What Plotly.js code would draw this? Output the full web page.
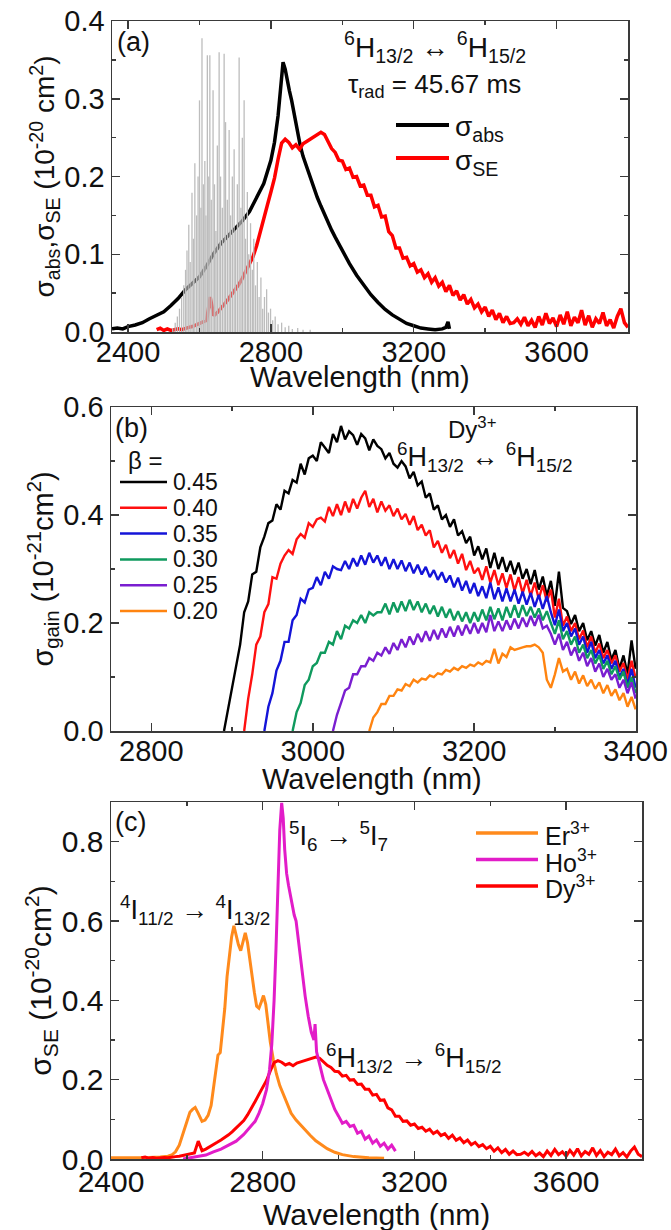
<!DOCTYPE html>
<html>
<head>
<meta charset="utf-8">
<script src="https://cdn.plot.ly/plotly-3.0.1.min.js"></script>
<style>html,body{margin:0;padding:0;background:#fff;}#chart{width:671px;height:1230px;}</style>
</head>
<body>
<div id="chart"></div>
<script>
// ---------- Panel (a): Dy3+ 6H13/2 <-> 6H15/2 ----------
const wlAbs = [2355,2370,2385,2400,2420,2440,2460,2480,2500,2520,2540,2560,2580,2600,2620,2640,2660,2680,2700,2720,2740,2760,2780,2800,2810,2820,2828,2834,2840,2846,2852,2858,2866,2874,2882,2890,2900,2910,2920,2930,2940,2950,2960,2970,2980,2990,3000,3020,3040,3060,3080,3100,3120,3140,3160,3180,3200,3220,3240,3260,3280,3290,3296,3300];
const sigAbs = [0.004,0.005,0.004,0.007,0.009,0.012,0.017,0.021,0.026,0.034,0.043,0.054,0.062,0.071,0.085,0.101,0.114,0.124,0.133,0.143,0.155,0.172,0.191,0.221,0.244,0.278,0.318,0.347,0.338,0.322,0.310,0.298,0.278,0.258,0.240,0.226,0.212,0.198,0.185,0.173,0.162,0.151,0.141,0.131,0.122,0.113,0.104,0.088,0.073,0.060,0.048,0.038,0.029,0.022,0.016,0.011,0.008,0.005,0.004,0.003,0.004,0.006,0.013,0.004];

const wlSE = [2480,2490,2500,2510,2520,2530,2540,2550,2560,2570,
  2580,2590,2600,2610,2620,2630,2640,2650,2660,2670,
  2680,2690,2700,2710,2720,2730,2740,2750,2760,2770,
  2780,2790,2800,2810,2820,2830,2840,2850,2860,2870,
  2880,2890,2900,2910,2920,2930,2940,2950,2960,2970,
  2980,2990,3000,3010,3020,3030,3040,3050,3060,3070,
  3080,3090,3100,3110,3120,3130,3140,3150,3160,3170,
  3180,3190,3200,3210,3220,3230,3240,3250,3260,3270,
  3280,3290,3300,3310,3320,3330,3340,3350,3360,3370,
  3380,3390,3400,3410,3420,3430,3440,3450,3460,3470,
  3480,3490,3500,3510,3520,3530,3540,3550,3560,3570,
  3580,3590,3600,3610,3620,3630,3640,3650,3660,3670,
  3680,3690,3700,3710,3720,3730,3740,3750,3760,3770,
  3780,3790,3800];
const sigSE = [0.003,0.005,0.002,0.004,0.002,0.003,0.004,0.003,0.005,0.006,
  0.007,0.009,0.010,0.012,0.015,0.045,0.021,0.025,0.030,0.036,
  0.042,0.048,0.054,0.061,0.069,0.078,0.087,0.097,0.111,0.127,
  0.145,0.163,0.180,0.198,0.222,0.243,0.248,0.244,0.237,0.241,
  0.235,0.242,0.245,0.248,0.252,0.254,0.257,0.254,0.245,0.236,
  0.231,0.221,0.220,0.209,0.211,0.199,0.200,0.188,0.189,0.176,
  0.176,0.161,0.163,0.148,0.149,0.129,0.124,0.108,0.108,0.095,
  0.096,0.085,0.088,0.077,0.080,0.070,0.075,0.064,0.070,0.059,
  0.064,0.052,0.060,0.047,0.053,0.041,0.048,0.036,0.042,0.031,
  0.036,0.026,0.032,0.020,0.028,0.016,0.024,0.012,0.020,0.011,
  0.012,0.017,0.010,0.019,0.008,0.015,0.006,0.020,0.009,0.024,
  0.011,0.018,0.007,0.022,0.010,0.026,0.008,0.019,0.012,0.028,
  0.009,0.021,0.006,0.017,0.011,0.025,0.008,0.016,0.005,0.020,
  0.030,0.012,0.006];

// grey emission lines of the reference spectrum
const wlLines = [2525,2532,2538,2544,2550,2556,2561,2565,2570,2574,
  2579,2583,2587,2592,2596,2600,2604,2607,2611,2615,
  2618,2622,2626,2629,2633,2638,2642,2646,2650,2655,
  2659,2664,2669,2673,2678,2683,2687,2692,2697,2701,
  2706,2711,2716,2720,2725,2729,2734,2738,2743,2748,
  2752,2757,2762,2767,2772,2777,2782,2788,2793,2799,
  2805,2812,2820,2830,2840,2850,2860,2875,2890,2910];
const lineHeights = [0.005,0.012,0.020,0.030,0.045,0.060,0.080,0.105,0.138,0.090,
  0.179,0.120,0.217,0.150,0.200,0.298,0.160,0.378,0.190,0.220,
  0.150,0.356,0.200,0.356,0.170,0.311,0.190,0.130,0.240,0.360,
  0.200,0.160,0.358,0.270,0.170,0.260,0.150,0.200,0.235,0.130,
  0.190,0.353,0.160,0.250,0.298,0.120,0.180,0.100,0.140,0.080,
  0.120,0.060,0.090,0.045,0.070,0.030,0.045,0.055,0.025,0.030,
  0.015,0.020,0.010,0.012,0.006,0.008,0.004,0.005,0.003,0.003];

// ---------- Panel (b): gain cross-sections ----------
const betaLabels = ['0.45','0.40','0.35','0.30','0.25','0.20'];
const betaColors = ['#000000','#ff1010','#1414d8','#0f9a5e','#7a1ed0','#ff8410'];
const wlGain = [2890,2895,2900,2905,2910,2915,2920,2925,2930,2935,
  2940,2945,2950,2955,2960,2965,2970,2975,2980,2985,
  2990,2995,3000,3005,3010,3015,3020,3025,3030,3035,
  3040,3045,3050,3055,3060,3065,3070,3075,3080,3085,
  3090,3095,3100,3105,3110,3115,3120,3125,3130,3135,
  3140,3145,3150,3155,3160,3165,3170,3175,3180,3185,
  3190,3195,3200,3205,3210,3215,3220,3225,3230,3235,
  3240,3245,3250,3255,3260,3265,3270,3275,3280,3285,
  3290,3295,3300,3305,3310,3315,3320,3325,3330,3335,
  3340,3345,3350,3355,3360,3365,3370,3375,3380,3385,
  3390,3395,3400];
const gain045 = [0.000,0.040,0.085,0.125,0.160,0.220,0.240,0.290,0.295,0.340,
  0.360,0.385,0.390,0.420,0.410,0.445,0.440,0.465,0.460,0.495,
  0.475,0.505,0.510,0.500,0.535,0.525,0.515,0.550,0.535,0.565,
  0.540,0.555,0.548,0.530,0.550,0.542,0.520,0.540,0.528,0.522,
  0.505,0.515,0.495,0.488,0.500,0.490,0.468,0.480,0.455,0.462,
  0.432,0.440,0.410,0.418,0.392,0.400,0.378,0.392,0.362,0.370,
  0.348,0.360,0.325,0.342,0.318,0.338,0.302,0.330,0.300,0.322,
  0.295,0.315,0.290,0.312,0.282,0.300,0.272,0.298,0.262,0.286,
  0.250,0.278,0.232,0.295,0.228,0.222,0.198,0.215,0.185,0.200,
  0.168,0.185,0.158,0.178,0.145,0.165,0.132,0.150,0.115,0.140,
  0.105,0.168,0.115];
const gain040 = [null,null,null,null,null,0.000,0.060,0.105,0.160,0.175,
  0.220,0.235,0.285,0.282,0.310,0.325,0.335,0.328,0.355,0.365,
  0.358,0.385,0.378,0.392,0.395,0.388,0.415,0.398,0.420,0.400,
  0.425,0.405,0.430,0.412,0.432,0.445,0.415,0.430,0.405,0.425,
  0.408,0.418,0.398,0.412,0.392,0.402,0.382,0.398,0.372,0.382,
  0.362,0.372,0.340,0.352,0.330,0.345,0.320,0.335,0.310,0.328,
  0.298,0.315,0.292,0.302,0.280,0.305,0.275,0.298,0.270,0.292,
  0.265,0.290,0.260,0.285,0.255,0.280,0.250,0.275,0.245,0.270,
  0.240,0.262,0.210,0.245,0.195,0.212,0.185,0.200,0.170,0.186,
  0.155,0.175,0.145,0.162,0.135,0.150,0.125,0.140,0.110,0.126,
  0.095,0.130,0.098];
const gain035 = [null,null,null,null,null,null,null,null,null,null,
  0.000,0.045,0.070,0.112,0.130,0.165,0.165,0.205,0.215,0.245,
  0.238,0.262,0.265,0.285,0.270,0.295,0.282,0.305,0.300,0.298,
  0.315,0.300,0.320,0.305,0.325,0.308,0.330,0.312,0.325,0.306,
  0.322,0.300,0.318,0.300,0.316,0.296,0.312,0.292,0.308,0.290,
  0.304,0.285,0.298,0.280,0.294,0.275,0.288,0.266,0.284,0.260,
  0.278,0.255,0.274,0.250,0.268,0.246,0.275,0.244,0.266,0.240,
  0.264,0.240,0.262,0.236,0.258,0.234,0.256,0.230,0.252,0.226,
  0.250,0.220,0.196,0.225,0.185,0.200,0.175,0.190,0.160,0.175,
  0.145,0.165,0.135,0.150,0.125,0.140,0.115,0.130,0.100,0.115,
  0.085,0.115,0.080];
const gain030 = [null,null,null,null,null,null,null,null,null,null,
  null,null,null,null,null,null,null,0.000,0.035,0.052,
  0.085,0.095,0.120,0.126,0.145,0.145,0.165,0.160,0.185,0.170,
  0.195,0.190,0.205,0.200,0.215,0.200,0.220,0.214,0.220,0.220,
  0.236,0.216,0.238,0.220,0.240,0.222,0.243,0.224,0.240,0.220,
  0.236,0.217,0.232,0.212,0.230,0.210,0.226,0.205,0.222,0.203,
  0.220,0.200,0.220,0.203,0.225,0.205,0.230,0.207,0.227,0.205,
  0.230,0.210,0.233,0.210,0.233,0.213,0.230,0.210,0.227,0.205,
  0.222,0.200,0.180,0.205,0.170,0.185,0.160,0.175,0.145,0.160,
  0.135,0.150,0.125,0.140,0.115,0.130,0.105,0.120,0.095,0.110,
  0.080,0.100,0.070];
const gain025 = [null,null,null,null,null,null,null,null,null,null,
  null,null,null,null,null,null,null,null,null,null,
  null,null,null,null,null,null,null,0.000,0.030,0.052,
  0.075,0.080,0.105,0.105,0.120,0.120,0.135,0.130,0.145,0.140,
  0.155,0.143,0.163,0.150,0.170,0.155,0.175,0.160,0.180,0.165,
  0.185,0.167,0.187,0.170,0.190,0.173,0.193,0.175,0.195,0.177,
  0.197,0.180,0.200,0.181,0.200,0.183,0.215,0.185,0.203,0.185,
  0.205,0.188,0.208,0.190,0.210,0.193,0.213,0.195,0.215,0.190,
  0.195,0.180,0.160,0.180,0.150,0.165,0.140,0.155,0.130,0.145,
  0.120,0.135,0.110,0.125,0.100,0.115,0.095,0.105,0.080,0.095,
  0.070,0.090,0.060];
const gain020 = [null,null,null,null,null,null,null,null,null,null,
  null,null,null,null,null,null,null,null,null,null,
  null,null,null,null,null,null,null,null,null,null,
  null,null,null,null,null,null,0.000,0.025,0.035,0.050,
  0.050,0.065,0.065,0.077,0.075,0.087,0.083,0.095,0.090,0.097,
  0.095,0.103,0.100,0.107,0.105,0.113,0.110,0.117,0.113,0.120,
  0.117,0.123,0.120,0.127,0.123,0.130,0.127,0.152,0.125,0.143,
  0.137,0.155,0.150,0.153,0.155,0.157,0.157,0.160,0.155,0.145,
  0.095,0.080,0.105,0.135,0.110,0.115,0.095,0.110,0.088,0.103,
  0.083,0.095,0.078,0.090,0.070,0.085,0.065,0.077,0.057,0.070,
  0.045,0.063,0.040];
const gainSeries = [gain045,gain040,gain035,gain030,gain025,gain020];

// ---------- Panel (c): Er3+, Ho3+, Dy3+ emission cross-sections ----------
const wlEr = [2400,2450,2500,2530,2550,2560,2570,2580,2590,2600,2608,2615,2622,2630,2640,2648,2656,2664,2670,2676,2682,2688,2694,2700,2706,2712,2718,2724,2730,2736,2742,2748,2754,2760,2766,2772,2778,2784,2790,2796,2802,2808,2814,2820,2828,2836,2845,2855,2865,2875,2888,2900,2912,2925,2940,2955,2970,2990,3010,3040,3080,3120];
const sigEr = [0.003,0.003,0.004,0.005,0.007,0.010,0.018,0.035,0.065,0.100,0.118,0.125,0.130,0.115,0.095,0.098,0.110,0.135,0.180,0.230,0.262,0.268,0.320,0.380,0.460,0.520,0.560,0.588,0.560,0.540,0.525,0.545,0.570,0.545,0.500,0.460,0.420,0.385,0.380,0.395,0.412,0.390,0.340,0.295,0.250,0.215,0.185,0.160,0.135,0.115,0.098,0.085,0.072,0.060,0.046,0.035,0.026,0.017,0.011,0.006,0.003,0.002];
const wlHo = [2590,2610,2630,2650,2670,2690,2710,2730,2750,2770,2780,2790,2800,2810,2818,2824,2830,2835,2840,2845,2850,2854,2858,2863,2868,2873,2878,2883,2888,2893,2898,2905,2912,2920,2928,2935,2938,2942,2950,2960,2970,2980,2990,3000,3010,3020,3030,3040,3050,3060,3070,3080,3090,3100,3110,3120,3130,3140,3150];
const sigHo = [0.000,0.003,0.006,0.010,0.018,0.025,0.035,0.045,0.062,0.085,0.095,0.115,0.140,0.175,0.225,0.290,0.400,0.530,0.700,0.830,0.898,0.860,0.780,0.720,0.690,0.665,0.640,0.615,0.600,0.560,0.510,0.460,0.410,0.360,0.320,0.300,0.340,0.270,0.235,0.200,0.175,0.150,0.125,0.108,0.090,0.095,0.082,0.085,0.065,0.070,0.050,0.058,0.040,0.048,0.032,0.040,0.025,0.035,0.020];
const ionLabels = ['Er<sup>3+</sup>','Ho<sup>3+</sup>','Dy<sup>3+</sup>'];
const ionColors = ['#ff8a1c','#e21cc8','#ff0000'];

// ---------- geometry helpers (pixel -> paper) ----------
const W = 671, H = 1230, ML = 111, MR = 29, MT = 21, MB = 71;
const PW = W - ML - MR, PH = H - MT - MB;
const fx = X => (X - ML) / PW;
const fy = Y => (H - MB - Y) / PH;
const FONT = 'Liberation Sans, Arial, Helvetica, sans-serif';
const AXC = '#3a3a3a';

// grey stick spectrum built from the arrays
const stickX = [], stickY = [];
wlLines.forEach((w, i) => { stickX.push(w, w, null); stickY.push(0, lineHeights[i], null); });

const traces = [
  {x: wlAbs, y: sigAbs, xaxis: 'x', yaxis: 'y', mode: 'lines', name: 'σabs', line: {color: '#000', width: 3.5}, showlegend: false},
  {x: wlSE, y: sigSE, xaxis: 'x', yaxis: 'y', mode: 'lines', name: 'σSE', line: {color: '#ff0000', width: 3.5}, showlegend: false},
  {x: stickX, y: stickY, xaxis: 'x', yaxis: 'y', mode: 'lines', name: 'lines', line: {color: '#bdbdbd', width: 1.3}, showlegend: false, connectgaps: false}
];
gainSeries.forEach((g, i) => traces.push({x: wlGain, y: g, xaxis: 'x2', yaxis: 'y2', mode: 'lines', name: betaLabels[i], line: {color: betaColors[i], width: 2.4}, showlegend: false}));
traces.push({x: wlEr, y: sigEr, xaxis: 'x3', yaxis: 'y3', mode: 'lines', name: 'Er3+', line: {color: ionColors[0], width: 3}, showlegend: false});
traces.push({x: wlSE, y: sigSE, xaxis: 'x3', yaxis: 'y3', mode: 'lines', name: 'Dy3+', line: {color: ionColors[2], width: 3}, showlegend: false});
traces.push({x: wlHo, y: sigHo, xaxis: 'x3', yaxis: 'y3', mode: 'lines', name: 'Ho3+', line: {color: ionColors[1], width: 3}, showlegend: false});

function axis(extra, fs) {
  return Object.assign({
    showline: true, linecolor: AXC, linewidth: 1.5, mirror: 'allticks',
    ticks: 'inside', ticklen: 8, tickwidth: 1.5, tickcolor: AXC,
    showgrid: false, zeroline: false,
    tickfont: {family: FONT, size: fs, color: '#111'},
    minor: {ticks: 'inside', ticklen: 4, tickwidth: 1.5, tickcolor: AXC, showgrid: false}
  }, extra);
}

const ann = [];
function A(text, X, Y, xanchor, size, extra) {
  ann.push(Object.assign({text: text, x: fx(X), y: fy(Y), xref: 'paper', yref: 'paper', xanchor: xanchor, yanchor: 'middle', showarrow: false, font: {family: FONT, size: size, color: '#111'}}, extra || {}));
}
const shapes = [];
function L(X0, X1, Y, color, w) {
  shapes.push({type: 'line', xref: 'paper', yref: 'paper', x0: fx(X0), x1: fx(X1), y0: fy(Y), y1: fy(Y), line: {color: color, width: w}});
}
// x-axis titles (placed tight under the tick labels as in the reference)
A('Wavelength (nm)', 360, 377, 'center', 29);
A('Wavelength (nm)', 372, 779, 'center', 29);
A('Wavelength (nm)', 376, 1214, 'center', 30);
// panel (a)
A('(a)', 115, 42, 'left', 27);
A('<sup>6</sup>H<sub>13/2</sub> ↔ <sup>6</sup>H<sub>15/2</sub>', 435, 47, 'center', 28);
A('τ<sub>rad</sub> = 45.67 ms', 346, 86, 'left', 26);
L(396, 449, 125, '#000', 4); A('σ<sub>abs</sub>', 453, 129, 'left', 28);
L(396, 449, 158, '#ff0000', 4); A('σ<sub>SE</sub>', 453, 162, 'left', 28);
// panel (b)
A('(b)', 113, 428, 'left', 27);
A('Dy<sup>3+</sup>', 472, 428, 'center', 24);
A('<sup>6</sup>H<sub>13/2</sub> ↔ <sup>6</sup>H<sub>15/2</sub>', 485, 457, 'center', 27);
A('β =', 145, 460, 'center', 24);
betaLabels.forEach((b, i) => { const Y = 482 + 25.8 * i; L(120, 167, Y, betaColors[i], 2.5); A(b, 171, Y, 'left', 23); });
// panel (c)
A('(c)', 113, 822, 'left', 27);
A('<sup>5</sup>I<sub>6</sub> → <sup>5</sup>I<sub>7</sub>', 287, 836, 'left', 27);
A('<sup>4</sup>I<sub>11/2</sub> → <sup>4</sup>I<sub>13/2</sub>', 118, 910, 'left', 27);
A('<sup>6</sup>H<sub>13/2</sub> → <sup>6</sup>H<sub>15/2</sub>', 324, 1058, 'left', 27);
ionLabels.forEach((t, i) => { const Y = 833 + 26.5 * i; L(476, 538, Y, ionColors[i], 3.5); A(t, 543, Y + 1, 'left', 25); });

const layout = {
  width: W, height: H, paper_bgcolor: '#fff', plot_bgcolor: '#fff',
  margin: {l: ML, r: MR, t: MT, b: MB},
  showlegend: false,
  font: {family: FONT, color: '#111'},
  xaxis: axis({domain: [fx(112), fx(628)], range: [2355, 3800], anchor: 'y', tick0: 2400, dtick: 400, ticklabelstandoff: -6}, 29),
  yaxis: axis({domain: [fy(332), fy(21)], range: [0, 0.4001], anchor: 'x', dtick: 0.1, tickformat: '.1f',
    title: {text: 'σ<sub>abs</sub>,σ<sub>SE</sub> (10<sup>-20</sup> cm<sup>2</sup>)', font: {family: FONT, size: 28, color: '#111'}, standoff: 0}}, 29),
  xaxis2: axis({domain: [fx(111), fx(636)], range: [2750, 3400.5], anchor: 'y2', tick0: 2800, dtick: 200, ticklabelstandoff: -6}, 29),
  yaxis2: axis({domain: [fy(731), fy(407)], range: [0, 0.6001], anchor: 'x2', dtick: 0.2, tickformat: '.1f',
    title: {text: 'σ<sub>gain</sub> (10<sup>-21</sup>cm<sup>2</sup>)', font: {family: FONT, size: 29, color: '#111'}, standoff: 0}}, 29),
  xaxis3: axis({domain: [fx(111), fx(642)], range: [2400, 3800], anchor: 'y3', tick0: 2400, dtick: 400, ticklabelstandoff: -5}, 30),
  yaxis3: axis({domain: [fy(1159), fy(802)], range: [0, 0.9], anchor: 'x3', dtick: 0.2, tickformat: '.1f',
    title: {text: 'σ<sub>SE</sub> (10<sup>-20</sup>cm<sup>2</sup>)', font: {family: FONT, size: 30, color: '#111'}, standoff: 0}}, 30),
  annotations: ann,
  shapes: shapes
};
layout.xaxis.minor.dtick = 200; layout.xaxis2.minor.dtick = 100; layout.xaxis3.minor.dtick = 200;
layout.yaxis.minor.dtick = 0.05; layout.yaxis2.minor.dtick = 0.1; layout.yaxis3.minor.dtick = 0.1;

Plotly.newPlot('chart', traces, layout, {displayModeBar: false, staticPlot: true});
</script>
</body>
</html>
